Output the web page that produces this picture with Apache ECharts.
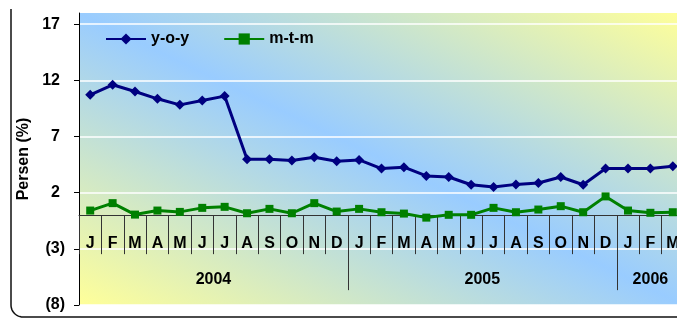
<!DOCTYPE html>
<html>
<head>
<meta charset="utf-8">
<script src="https://cdn.jsdelivr.net/npm/echarts@6/dist/echarts.min.js"></script>
<style>
  html, body { margin: 0; padding: 0; background: #fff; overflow: hidden; }
  #c { width: 700px; height: 320px; }
</style>
</head>
<body>
<div id="c"></div>
<script>
// Month initials per year and the number of months shown for each year
const monthInitials = ['J', 'F', 'M', 'A', 'M', 'J', 'J', 'A', 'S', 'O', 'N', 'D'];
const years = ['2004', '2005', '2006'];
const monthsPerYear = [12, 12, 3];

// Inflation, percent
const yoy = [10.72, 11.61, 11.01, 10.36, 9.82, 10.21, 10.60, 4.98, 4.98, 4.87, 5.16, 4.80,
             4.92, 4.15, 4.27, 3.49, 3.40, 2.71, 2.50, 2.74, 2.86, 3.40, 2.71, 4.15,
             4.15, 4.15, 4.35];
const mtm = [0.41, 1.07, 0.05, 0.41, 0.29, 0.65, 0.74, 0.17, 0.56, 0.17, 1.07, 0.32,
             0.56, 0.26, 0.14, -0.22, 0.03, 0.03, 0.65, 0.26, 0.50, 0.80, 0.26, 1.67,
             0.41, 0.21, 0.26];

// Y axis ticks
const yTicks = [-8, -3, 2, 7, 12, 17];
const yMin = -8, yMax = 18;

// Category list and year boundaries / year label centres
const categories = [];
const yearBreaks = [];
const yearCenters = [];
let pos = 0;
monthsPerYear.forEach((n, i) => {
  for (let k = 0; k < n; k++) categories.push(monthInitials[k]);
  yearCenters.push(pos + n / 2);
  pos += n;
  if (i < monthsPerYear.length - 1) yearBreaks.push(pos);
});

const FONT = 'Liberation Sans, Arial, sans-serif';
const txt = { fontFamily: FONT, fontWeight: 'bold', fontSize: 16, color: '#000' };

const GL = 79, GT = 13, GR = 684, GB = 305;
// Diagonal two-tone fill: yellow corners (bottom-left / top-right), blue band along the other diagonal
const cx = (GL + GR) / 2, cy = (GT + GB) / 2;
const dx = GR - GL, dy = GB - GT, len = Math.hypot(dx, dy);
const nx = dy / len, ny = -dx / len;
const half = Math.abs((GL - cx) * nx + (GB - cy) * ny);
const bgFill = {
  type: 'linear',
  x: cx - half * nx, y: cy - half * ny,
  x2: cx + half * nx, y2: cy + half * ny,
  colorStops: [
    { offset: 0, color: '#FFFF99' },
    { offset: 0.5, color: '#99CCFF' },
    { offset: 1, color: '#FFFF99' }
  ],
  global: true
};

// Rounded outer frame (left edge, bottom-left corner, bottom edge)
const framePts = [[11, 9], [11, 305]];
for (let a = 1; a <= 12; a++) {
  const t = Math.PI - a * Math.PI / 24;
  framePts.push([23 + 12 * Math.cos(t), 305 + 12 * Math.sin(t)]);
}
framePts.push([700, 317]);

const chart = echarts.init(document.getElementById('c'), null, { renderer: 'canvas' });
chart.setOption({
  animation: false,
  backgroundColor: '#fff',
  grid: {
    left: GL, top: GT, right: 700 - GR, bottom: 320 - GB,
    show: true, backgroundColor: bgFill, borderWidth: 0,
    containLabel: false, outerBoundsMode: 'none'
  },
  graphic: [{
    type: 'polyline',
    shape: { points: framePts },
    style: { fill: null, stroke: '#111', lineWidth: 1.5 },
    z: 100
  }],
  legend: {
    left: 105, top: 31, padding: 0,
    itemWidth: 40, itemHeight: 14, itemGap: 34,
    textStyle: txt,
    data: ['y-o-y', 'm-t-m']
  },
  xAxis: [{
    type: 'category',
    data: categories,
    boundaryGap: true,
    position: 'bottom',
    axisLine: { onZero: false, lineStyle: { color: '#333', width: 1 } },
    axisTick: { show: true, interval: 0, length: 39, alignWithLabel: false, lineStyle: { color: '#333' } },
    axisLabel: Object.assign({ interval: 0, margin: 20 }, txt),
    splitLine: { show: false }
  }, {
    type: 'value',
    min: 0, max: categories.length,
    position: 'bottom',
    axisLine: { show: false, onZero: false },
    axisTick: { show: true, customValues: yearBreaks, length: 75, lineStyle: { color: '#333' } },
    axisLabel: Object.assign({
      customValues: yearCenters,
      margin: 56,
      formatter: v => {
        const i = yearCenters.findIndex(c => Math.abs(c - v) < 1e-6);
        return i >= 0 ? years[i] : '';
      }
    }, txt),
    splitLine: { show: false }
  }],
  yAxis: {
    type: 'value',
    min: yMin, max: yMax,
    name: 'Persen (%)',
    nameLocation: 'middle',
    nameGap: 43,
    nameTextStyle: txt,
    axisLine: { show: true, onZero: false, lineStyle: { color: '#000', width: 1 } },
    axisTick: { show: true, inside: false, length: 5, customValues: yTicks, lineStyle: { color: '#000' } },
    axisLabel: Object.assign({
      customValues: yTicks,
      margin: 14,
      formatter: v => v < 0 ? '(' + (-v) + ')' : '{p|' + v + '}',
      rich: { p: Object.assign({ padding: [0, 5, 0, 0] }, txt) }
    }, txt),
    splitLine: { show: true, lineStyle: { color: '#fff', width: 1.5 } }
  },
  series: [{
    name: 'y-o-y',
    type: 'line',
    xAxisIndex: 0,
    data: yoy,
    symbol: 'diamond',
    symbolSize: 10,
    color: '#000080',
    lineStyle: { width: 3, color: '#000080' },
    itemStyle: { color: '#000080' },
    z: 3
  }, {
    name: 'm-t-m',
    type: 'line',
    xAxisIndex: 0,
    data: mtm,
    symbol: 'rect',
    symbolSize: 8,
    color: '#008000',
    lineStyle: { width: 3, color: '#008000' },
    itemStyle: { color: '#008000' },
    z: 3
  }]
});

// Lift both category axes up to the zero line of the value axis
const zeroY = chart.convertToPixel({ yAxisIndex: 0 }, 0);
const lift = -(GB - zeroY);
chart.setOption({ xAxis: [{ offset: lift }, { offset: lift }] });
</script>
</body>
</html>
